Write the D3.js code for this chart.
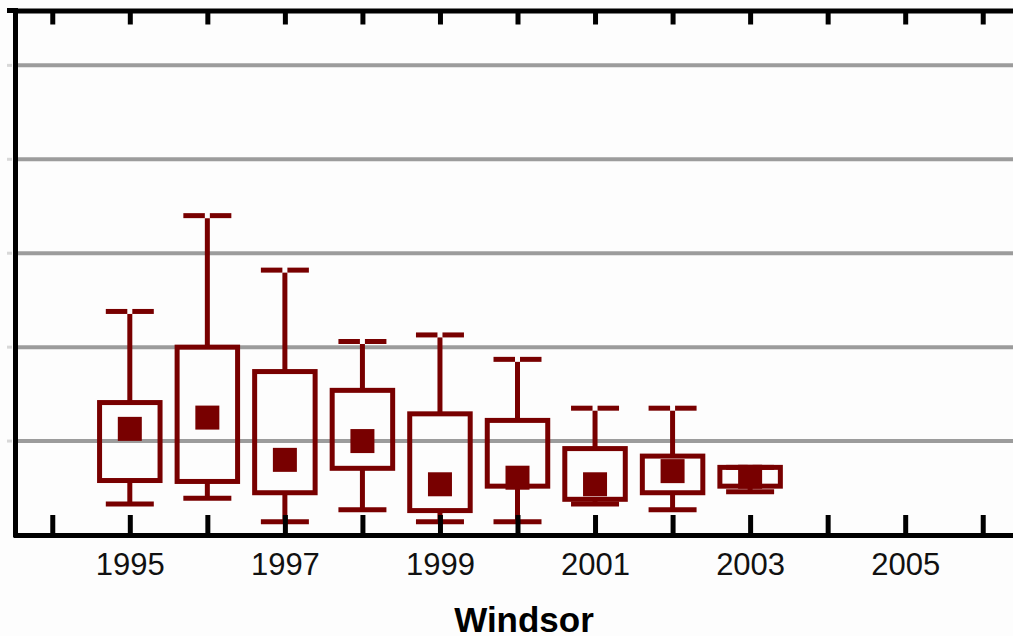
<!DOCTYPE html>
<html>
<head>
<meta charset="utf-8">
<script src="https://cdn.jsdelivr.net/npm/d3@7"></script>
<style>
  html, body { margin: 0; padding: 0; background: #fdfdfd; }
  svg { display: block; }
</style>
</head>
<body>
<svg id="chart" width="1013" height="636"></svg>
<script>
// ---- data ----
const years     = [1995, 1996, 1997, 1998, 1999, 2000, 2001, 2002, 2003];
const whiskHigh = [23.8, 34.0, 28.2, 20.6, 21.3, 18.7, 13.5, 13.5, 7.2];
const q3        = [14.1, 20.0, 17.4, 15.4, 12.9, 12.2, 9.2, 8.4, 7.2];
const q1        = [5.8, 5.7, 4.5, 7.1, 2.6, 5.2, 3.8, 4.5, 5.2];
const whiskLow  = [3.3, 3.9, 1.4, 2.7, 1.4, 1.4, 3.3, 2.7, 4.6];
const means     = [11.3, 12.5, 8.0, 10.0, 5.4, 6.1, 5.4, 6.8, 6.2];
const tickYears = d3.range(1994, 2007);
const labelYears = [1995, 1997, 1999, 2001, 2003, 2005];
const gridValues = [10, 20, 30, 40, 50];
const xLabel = "Windsor";

// ---- layout ----
const svg = d3.select("#chart");
const plotLeft = 15.5, plotBottom = 535, plotTop = 10.5;
const x = d3.scaleLinear().domain([1993.5, 2006.5]).range([13.5, 1021.5]);
const y = d3.scaleLinear().domain([0, 56]).range([plotBottom, 9]);
const col = "#780000";
const step = x(1995) - x(1994);
const boxW = step * 0.78;
const capW = 48;

// gridlines
const grid = svg.append("g");
grid.selectAll("line.g").data(gridValues).join("line").attr("class","g")
  .attr("x1", plotLeft).attr("x2", 1013)
  .attr("y1", d => y(d)).attr("y2", d => y(d))
  .attr("stroke", "#9c9c9c").attr("stroke-width", 4);
grid.selectAll("line.m").data(gridValues).join("line").attr("class","m")
  .attr("x1", 7).attr("x2", 12)
  .attr("y1", d => y(d)).attr("y2", d => y(d))
  .attr("stroke", "#d8d8d8").attr("stroke-width", 3);

// boxes
const data = years.map((yr, i) => ({yr, hi: whiskHigh[i], q3: q3[i], q1: q1[i], lo: whiskLow[i], m: means[i]}));
const g = svg.append("g");
const bx = g.selectAll("g").data(data).join("g");

// upper whisker
bx.append("line")
  .attr("x1", d => x(d.yr)).attr("x2", d => x(d.yr))
  .attr("y1", d => y(d.hi) + 2.5).attr("y2", d => y(d.q3))
  .attr("stroke", col).attr("stroke-width", 5);
// lower whisker
bx.append("line")
  .attr("x1", d => x(d.yr)).attr("x2", d => x(d.yr))
  .attr("y1", d => y(d.q1)).attr("y2", d => y(d.lo))
  .attr("stroke", col).attr("stroke-width", 5);
// upper caps (split)
bx.append("line")
  .attr("x1", d => x(d.yr) - capW / 2).attr("x2", d => x(d.yr) - 2.5)
  .attr("y1", d => y(d.hi)).attr("y2", d => y(d.hi))
  .attr("stroke", col).attr("stroke-width", 5);
bx.append("line")
  .attr("x1", d => x(d.yr) + 2.5).attr("x2", d => x(d.yr) + capW / 2)
  .attr("y1", d => y(d.hi)).attr("y2", d => y(d.hi))
  .attr("stroke", col).attr("stroke-width", 5);
// lower caps
bx.append("line")
  .attr("x1", d => x(d.yr) - capW / 2).attr("x2", d => x(d.yr) + capW / 2)
  .attr("y1", d => y(d.lo)).attr("y2", d => y(d.lo))
  .attr("stroke", col).attr("stroke-width", 5);
// box
bx.append("rect")
  .attr("x", d => x(d.yr) - boxW / 2).attr("width", boxW)
  .attr("y", d => y(d.q3)).attr("height", d => y(d.q1) - y(d.q3))
  .attr("fill", "none").attr("stroke", col).attr("stroke-width", 5);
// mean marker
bx.append("rect")
  .attr("x", d => x(d.yr) - 12).attr("width", 24)
  .attr("y", d => y(d.m) - 12).attr("height", 24)
  .attr("fill", col);

// axes
const axB = svg.append("g").attr("transform", `translate(0,${plotBottom})`)
  .call(d3.axisBottom(x).tickValues(tickYears).tickSizeInner(-20).tickSizeOuter(0)
    .tickPadding(18).tickFormat(d => labelYears.includes(d) ? String(d) : ""));
axB.select(".domain").attr("stroke", "#000").attr("stroke-width", 5);
axB.selectAll(".tick line").attr("stroke", "#000").attr("stroke-width", 5);
axB.selectAll(".tick text").attr("font-family", "'Liberation Sans', Arial, sans-serif")
  .attr("font-size", 31).attr("fill", "#111");

const axT = svg.append("g").attr("transform", `translate(0,${plotTop})`)
  .call(d3.axisTop(x).tickValues(tickYears).tickSizeInner(-14).tickSizeOuter(0).tickFormat(""));
axT.select(".domain").attr("stroke", "#000").attr("stroke-width", 5);
axT.selectAll(".tick line").attr("stroke", "#000").attr("stroke-width", 5);
svg.append("line").attr("x1", 7).attr("x2", 16).attr("y1", plotTop).attr("y2", plotTop)
  .attr("stroke", "#000").attr("stroke-width", 5);

const axL = svg.append("g").attr("transform", `translate(${plotLeft},0)`)
  .call(d3.axisLeft(y).tickValues([]).tickSizeOuter(0));
axL.select(".domain").attr("stroke", "#000").attr("stroke-width", 5)
  .attr("d", `M0,${plotTop - 2.5}V${plotBottom + 2.5}`);

// axis title
svg.append("text")
  .attr("x", 524).attr("y", 632)
  .attr("text-anchor", "middle")
  .attr("font-family", "'Liberation Sans', Arial, sans-serif")
  .attr("font-weight", "bold").attr("font-size", 35).attr("fill", "#000")
  .text(xLabel);
</script>
</body>
</html>
